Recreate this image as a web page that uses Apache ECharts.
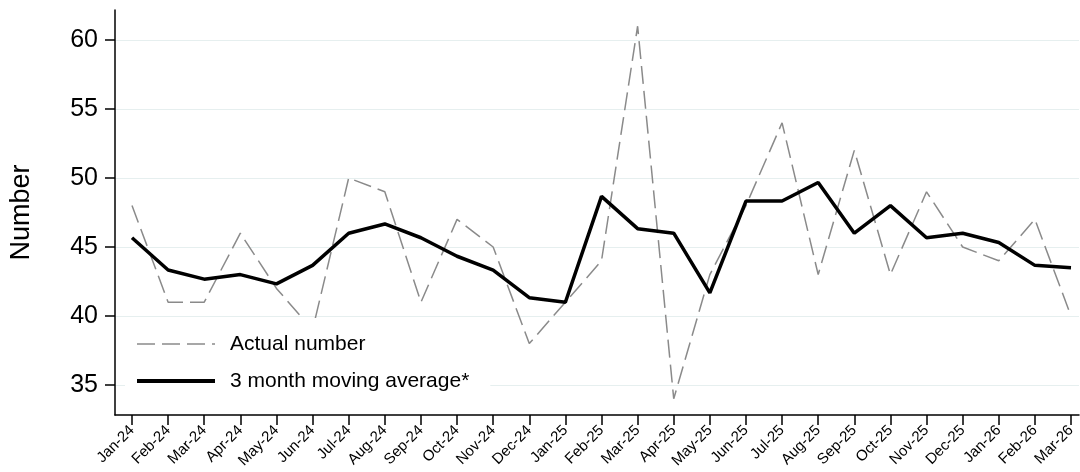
<!DOCTYPE html>
<html>
<head>
<meta charset="utf-8">
<script src="https://cdn.jsdelivr.net/npm/echarts@6/dist/echarts.min.js"></script>
<style>
html,body{margin:0;padding:0;background:#fff;}
#chart{width:1080px;height:472px;}
</style>
</head>
<body>
<div id="chart"></div>
<script>
const categories = ['Jan-24','Feb-24','Mar-24','Apr-24','May-24','Jun-24','Jul-24','Aug-24','Sep-24','Oct-24','Nov-24','Dec-24',
  'Jan-25','Feb-25','Mar-25','Apr-25','May-25','Jun-25','Jul-25','Aug-25','Sep-25','Oct-25','Nov-25','Dec-25',
  'Jan-26','Feb-26','Mar-26'];
const actualNumber = [48,41,41,46,42,39,50,49,41,47,45,38,41,44,61,34,43,48,54,43,52,43,49,45,44,47,40];
const movingAverage = [45.67,43.33,42.67,43,42.33,43.67,46,46.67,45.67,44.33,43.33,41.33,41,48.67,46.33,46,41.67,48.33,48.33,49.67,46,48,45.67,46,45.33,43.67,43.5];
const yMin = 35, yMax = 60, yStep = 5;

const FONT = "'Liberation Sans', Arial, sans-serif";
const chart = echarts.init(document.getElementById('chart'), null, {renderer:'canvas'});
chart.setOption({
  animation: false,
  backgroundColor: '#fff',
  textStyle: {fontFamily: FONT, color: '#000'},
  grid: [
    {left: 115, right: 1, top: 40, bottom: 87},
    {left: 132, right: 9, top: 40, bottom: 87},
    {left: 115, right: 1, top: 10, bottom: 57}
  ],
  xAxis: [
    {gridIndex: 0, type: 'value', show: false, min: 0, max: 1},
    {gridIndex: 1, type: 'category', data: categories, boundaryGap: false, offset: 30,
      axisLine: {show: false},
      axisTick: {show: true, length: 10, lineStyle: {color: '#000', width: 1.5}},
      axisLabel: {interval: 0, rotate: 45, fontSize: 15, color: '#000', margin: 13, fontFamily: FONT},
      splitLine: {show: false}},
    {gridIndex: 2, type: 'value', min: 0, max: 1,
      axisLine: {show: true, onZero: false, lineStyle: {color: '#000', width: 1.5}},
      axisTick: {show: false}, axisLabel: {show: false}, splitLine: {show: false}}
  ],
  yAxis: [
    {gridIndex: 0, type: 'value', min: yMin, max: yMax, interval: yStep,
      axisLine: {show: false},
      axisTick: {show: true, length: 10, lineStyle: {color: '#000', width: 1.5}},
      axisLabel: {fontSize: 25, color: '#000', margin: 17, fontFamily: FONT},
      splitLine: {show: true, lineStyle: {color: '#e6efef', width: 1}}},
    {gridIndex: 1, type: 'value', min: yMin, max: yMax, show: false},
    {gridIndex: 2, type: 'value', min: 0, max: 1,
      axisLine: {show: true, onZero: false, lineStyle: {color: '#000', width: 1.5}},
      axisTick: {show: false}, axisLabel: {show: false}, splitLine: {show: false},
      name: 'Number', nameLocation: 'middle', nameGap: 80,
      nameTextStyle: {fontSize: 27, color: '#000', fontFamily: FONT}}
  ],
  legend: {
    orient: 'vertical', left: 125, top: 318,
    backgroundColor: '#fff',
    padding: [14, 21, 10, 10],
    itemWidth: 78, itemHeight: 14, itemGap: 13,
    itemStyle: {color: 'transparent', borderColor: 'transparent', borderWidth: 0, opacity: 0},
    textStyle: {fontSize: 21, color: '#000', lineHeight: 24, padding: [0, 0, 0, 10], fontFamily: FONT},
    data: [
      {name: 'Actual number', lineStyle: {width: 1.5, color: '#8a8a8a', type: [18, 7]}},
      {name: '3 month moving average*', lineStyle: {width: 4, color: '#000'}}
    ],
    z: 10
  },
  series: [
    {name: 'Actual number', type: 'line', xAxisIndex: 1, yAxisIndex: 1, data: actualNumber,
      symbol: 'none', clip: false,
      lineStyle: {color: '#8a8a8a', width: 1.5, type: [18, 7]},
      itemStyle: {color: '#8a8a8a'}},
    {name: '3 month moving average*', type: 'line', xAxisIndex: 1, yAxisIndex: 1, data: movingAverage,
      symbol: 'none', clip: false,
      lineStyle: {color: '#000', width: 3.5},
      itemStyle: {color: '#000'}}
  ]
});
</script>
</body>
</html>
